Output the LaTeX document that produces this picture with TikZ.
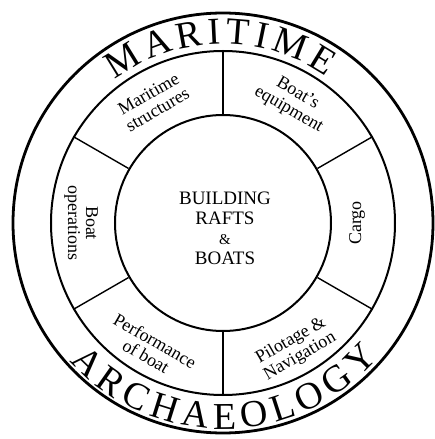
\documentclass[tikz,border=0pt]{standalone}
\usepackage{fontspec}
\setmainfont{Liberation Serif}
\usetikzlibrary{decorations.text}
\tikzset{
  rimline/.style={draw,circle,line width=2.8pt,inner sep=0pt},
  ringline/.style={draw,circle,line width=2pt,inner sep=0pt},
  divider/.style={line width=1.4pt},
  sector/.style={align=center,font=\fontsize{18}{18}\selectfont,inner sep=0pt},
  hubtext/.style={align=center,font=\fontsize{19}{20}\selectfont,inner sep=0pt}
}

\begin{document}
\begin{tikzpicture}[x=1pt,y=1pt]
  \useasboundingbox (-223,-216) rectangle (212,223);
  % rings
  \node[rimline, minimum size=420pt] (rim) at (0,0) {};
  \node[ringline, minimum size=344pt] (ring) at (0,0) {};
  \node[ringline, minimum size=216pt] (hub) at (0,0) {};
  \foreach \a in {30,90,...,330} \draw[divider] (hub.\a) -- (ring.\a);
  % sectors
  \node[sector, rotate=30] (structures) at (120:140) {Maritime\\structures};
  \node[sector, rotate=-30] (equipment) at (60:140) {Boat's\\equipment};
  \node[sector, rotate=90] (cargo) at (0:134) {Cargo};
  \node[sector, rotate=30] (pilotage) at (300:145) {Pilotage \&\\Navigation};
  \node[sector, rotate=-30] (performance) at (240:145) {Performance\\of boat};
  \node[sector, rotate=-90] (operations) at (180:142) {Boat\\operations};
  \node[hubtext] (centre) at (2,-5) {BUILDING\\RAFTS\\{\fontsize{15}{15}\selectfont\&}\\BOATS};
  % title band
  \path[decorate, decoration={text along path, text align=fit to path,
    text={|\fontsize{38}{38}\selectfont|MARITIME}}]
    (127:179) arc[start angle=127, end angle=55, radius=179];
  \path[decorate, decoration={text along path, text align=fit to path,
    text={|\fontsize{38}{38}\selectfont|ARCHAEOLOGY}}]
    (222:206) arc[start angle=222, end angle=319, radius=206];
\end{tikzpicture}
\end{document}
